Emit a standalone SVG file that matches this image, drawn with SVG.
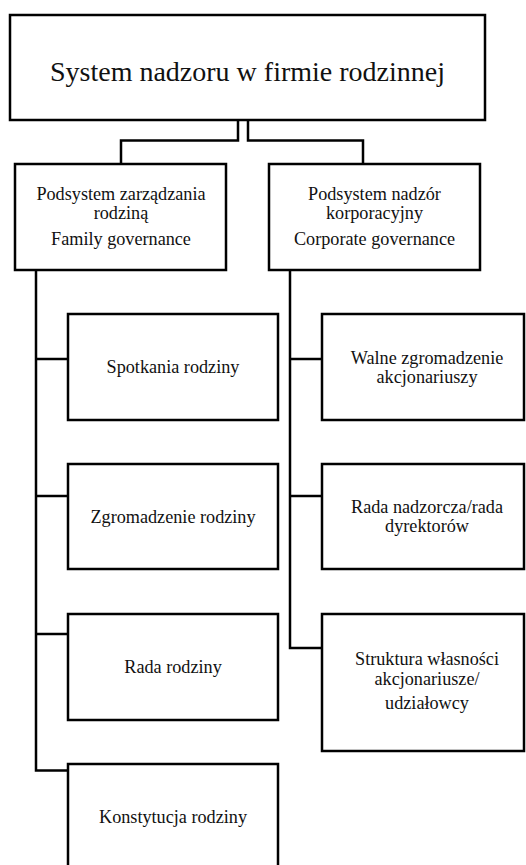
<svg xmlns="http://www.w3.org/2000/svg" width="526" height="865" viewBox="0 0 526 865">
  <style>
    .box { fill: #ffffff; stroke: #000000; stroke-width: 2.5; }
    .link { fill: none; stroke: #000000; stroke-width: 2.5; }
    text { font-family: "Liberation Serif", "Times New Roman", serif; fill: #111111; text-anchor: middle; }
    .title { font-size: 28px; }
    .lbl { font-size: 18.2px; }
  </style>
  <rect width="526" height="865" fill="#ffffff"/>

  <!-- connectors -->
  <g id="connectors">
    <polyline class="link" points="238,120 238,140.5 121,140.5 121,164"/>
    <polyline class="link" points="248,120 248,140.5 363,140.5 363,164"/>
    <polyline class="link" points="36,270 36,770.5 68,770.5"/>
    <line class="link" x1="36" y1="359" x2="68" y2="359"/>
    <line class="link" x1="36" y1="496" x2="68" y2="496"/>
    <line class="link" x1="36" y1="634" x2="68" y2="634"/>
    <polyline class="link" points="290,270 290,648 322,648"/>
    <line class="link" x1="290" y1="359" x2="322" y2="359"/>
    <line class="link" x1="290" y1="496" x2="322" y2="496"/>
  </g>

  <!-- root -->
  <g id="root">
    <rect class="box" x="10" y="15" width="475" height="105"/>
    <text class="title" x="247.5" y="81">System nadzoru w firmie rodzinnej</text>
  </g>

  <!-- subsystems -->
  <g id="family">
    <rect class="box" x="15" y="164" width="211" height="106"/>
    <text class="lbl" x="121" y="200">Podsystem zarządzania</text>
    <text class="lbl" x="121" y="219">rodziną</text>
    <text class="lbl" x="121" y="245">Family governance</text>
  </g>
  <g id="corporate">
    <rect class="box" x="269" y="164" width="211" height="106"/>
    <text class="lbl" x="374.5" y="200">Podsystem nadzór</text>
    <text class="lbl" x="374.5" y="219">korporacyjny</text>
    <text class="lbl" x="374.5" y="245">Corporate governance</text>
  </g>

  <!-- family governance bodies -->
  <g id="spotkania">
    <rect class="box" x="68" y="314" width="210" height="106"/>
    <text class="lbl" x="173" y="373">Spotkania rodziny</text>
  </g>
  <g id="zgromadzenie">
    <rect class="box" x="68" y="464" width="210" height="105"/>
    <text class="lbl" x="173" y="523">Zgromadzenie rodziny</text>
  </g>
  <g id="rada-rodziny">
    <rect class="box" x="68" y="614" width="210" height="106"/>
    <text class="lbl" x="173" y="673">Rada rodziny</text>
  </g>
  <g id="konstytucja">
    <rect class="box" x="68" y="764" width="210" height="110"/>
    <text class="lbl" x="173" y="823">Konstytucja rodziny</text>
  </g>

  <!-- corporate governance bodies -->
  <g id="walne">
    <rect class="box" x="322" y="314" width="202" height="106"/>
    <text class="lbl" x="427" y="364">Walne zgromadzenie</text>
    <text class="lbl" x="427" y="383">akcjonariuszy</text>
  </g>
  <g id="rada-nadzorcza">
    <rect class="box" x="322" y="464" width="202" height="105"/>
    <text class="lbl" x="427" y="513">Rada nadzorcza/rada</text>
    <text class="lbl" x="427" y="532">dyrektorów</text>
  </g>
  <g id="struktura">
    <rect class="box" x="322" y="614" width="202" height="137"/>
    <text class="lbl" x="427" y="665">Struktura własności</text>
    <text class="lbl" x="427" y="685">akcjonariusze/</text>
    <text class="lbl" x="427" y="709">udziałowcy</text>
  </g>
</svg>
